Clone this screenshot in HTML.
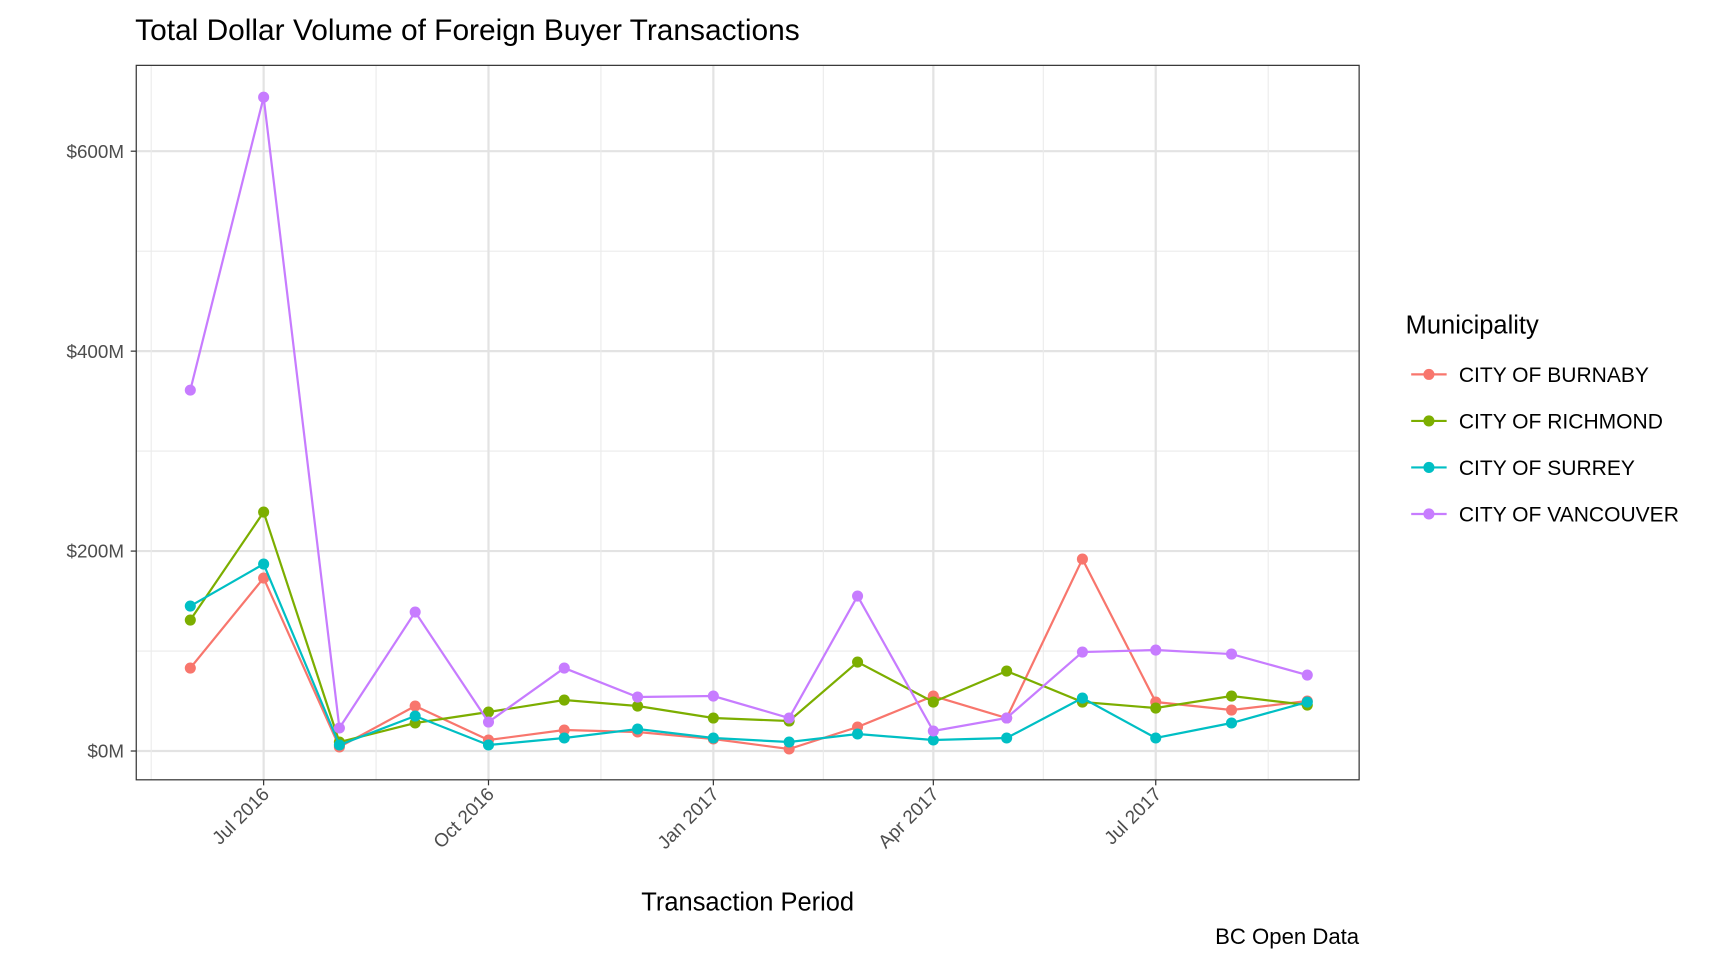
<!DOCTYPE html>
<html><head><meta charset="utf-8"><style>
html,body{margin:0;padding:0;background:#fff;}
svg{display:block;font-family:"Liberation Sans",Arial,sans-serif;}
</style></head><body>
<svg id="chart" width="1728" height="960" viewBox="0 0 1560 866.67" xmlns="http://www.w3.org/2000/svg">
<rect width="1560" height="866.67" fill="#fff"/>
<text x="122" y="36" font-size="27" fill="#000">Total Dollar Volume of Foreign Buyer Transactions</text>
<g id="grid"></g>
<g id="series"></g>
<rect x="123" y="59" width="1104" height="645" fill="none" stroke="#333" stroke-width="1.1"/>
<g id="axes"></g>
<text x="675" y="822" font-size="23" text-anchor="middle" fill="#000">Transaction Period</text>
<text x="1227" y="852" font-size="20" text-anchor="end" fill="#000">BC Open Data</text>
<g id="legend">
<text x="1269" y="301" font-size="23" fill="#000">Municipality</text>
</g>
</svg>
<script>
const months = ["2016-06-01","2016-07-01","2016-08-01","2016-09-01","2016-10-01","2016-11-01","2016-12-01","2017-01-01","2017-02-01","2017-03-01","2017-04-01","2017-05-01","2017-06-01","2017-07-01","2017-08-01","2017-09-01"];
const seriesNames = ["CITY OF BURNABY","CITY OF RICHMOND","CITY OF SURREY","CITY OF VANCOUVER"];
const seriesColors = ["#F8766D","#7CAE00","#00BFC4","#C77CFF"];
const burnaby = [83,173,4,45,11,21,19,12,2,24,55,33,192,49,41,50];
const richmond = [131,239,9,28,39,51,45,33,30,89,49,80,49,43,55,46];
const surrey = [145,187,6,35,6,13,22,13,9,17,11,13,53,13,28,49];
const vancouver = [361,654,23,139,29,83,54,55,33,155,20,33,99,101,97,76];
const yTicks = [0,200,400,600];
const yTickLabels = ["$0M","$200M","$400M","$600M"];
const xTicks = ["2016-07-01","2016-10-01","2017-01-01","2017-04-01","2017-07-01"];
const xTickLabels = ["Jul 2016","Oct 2016","Jan 2017","Apr 2017","Jul 2017"];
const xMinor = ["2016-05-16","2016-08-16","2016-11-16","2017-02-15","2017-05-16","2017-08-16"];

const NS="http://www.w3.org/2000/svg";
const t0=Date.parse("2016-07-01"), t1=Date.parse("2016-10-01");
const pxPerMs=(441-238)/(t1-t0);
function x(d){return 238+(Date.parse(d)-t0)*pxPerMs;}
function y(v){return 678-v*(678-136.5)/600;}
function mk(tag,attrs,parent){const e=document.createElementNS(NS,tag);for(const k in attrs)e.setAttribute(k,attrs[k]);parent.appendChild(e);return e;}
const grid=document.getElementById('grid'), axes=document.getElementById('axes'), ser=document.getElementById('series'), leg=document.getElementById('legend');
mk('rect',{x:123,y:59,width:1104,height:645,fill:'#fff'},grid);
yTicks.forEach((v,i)=>{
  if(i<yTicks.length){const ym=y(v+100);if(ym>59){const l=mk('line',{x1:123,x2:1227,y1:ym,y2:ym,stroke:'#ebebeb','stroke-width':1},grid);
  
  }}
  const g=mk('line',{x1:123,x2:1227,y1:y(v),y2:y(v),stroke:'#e3e3e3','stroke-width':2},grid);
  
  
  mk('line',{x1:118,x2:123,y1:y(v),y2:y(v),stroke:'#333','stroke-width':1.1},axes);
  const t=mk('text',{x:112,y:y(v)+6,'font-size':17,'text-anchor':'end',fill:'#4d4d4d'},axes);
  t.textContent=yTickLabels[i];
  
  
});
xMinor.forEach(d=>{const l=mk('line',{x1:x(d),x2:x(d),y1:59,y2:704,stroke:'#ebebeb','stroke-width':1},grid);
  
  });
xTicks.forEach((d,i)=>{
  const g=mk('line',{x1:x(d),x2:x(d),y1:59,y2:704,stroke:'#e3e3e3','stroke-width':2},grid);
  
  
  mk('line',{x1:x(d),x2:x(d),y1:704,y2:709,stroke:'#333','stroke-width':1.1},axes);
  const t=mk('text',{x:x(d)+6,y:718,'font-size':17,'text-anchor':'end',fill:'#4d4d4d',transform:`rotate(-45 ${x(d)+6} 718)`},axes);
  t.textContent=xTickLabels[i];
  
  
});
const allData=[burnaby,richmond,surrey,vancouver];
allData.forEach((vals,si)=>{
  const c=seriesColors[si];
  const g=mk('g',{},ser);
  
  
  const p=mk('polyline',{points:vals.map((v,i)=>x(months[i])+','+y(v)).join(' '),fill:'none',stroke:c,'stroke-width':2},g);
  
  
  vals.forEach((v,i)=>{const pt=mk('circle',{cx:x(months[i]),cy:y(v),r:5,fill:c},g);
    
    });
  const ly=338+si*42;
  const e=mk('g',{},leg);
  
  
  mk('line',{x1:1274,x2:1306,y1:ly,y2:ly,stroke:c,'stroke-width':2},e);
  mk('circle',{cx:1290,cy:ly,r:5,fill:c},e);
  const t=mk('text',{x:1317,y:ly+7,'font-size':19,fill:'#000'},e);
  t.textContent=seriesNames[si];
});
</script>
</body></html>
